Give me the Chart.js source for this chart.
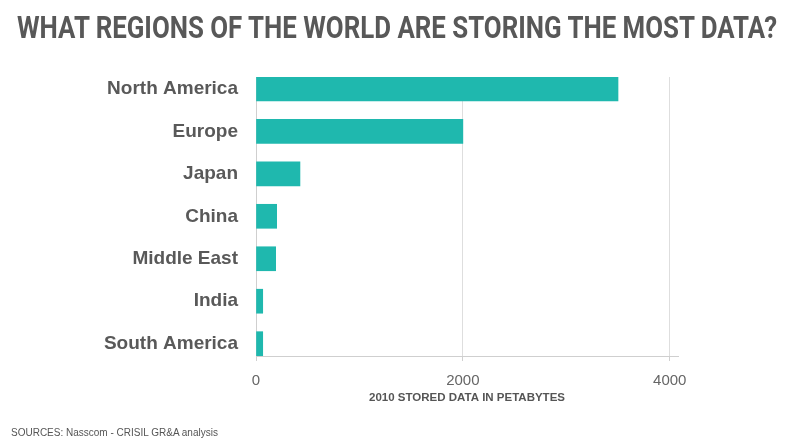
<!DOCTYPE html>
<html>
<head>
<meta charset="utf-8">
<script src="https://cdn.jsdelivr.net/npm/chart.js@4/dist/chart.umd.min.js"></script>
<style>
  html, body { margin: 0; padding: 0; background: #fff; }
  #wrap { position: relative; width: 794px; height: 447px; overflow: hidden; }
  #chart { position: absolute; left: 0; top: 0; }
  #title { position: absolute; left: 17px; top: 11px;
           font-family: Roboto, "Liberation Sans", sans-serif; font-weight: 700; font-size: 32px;
           line-height: 32px; color: #585858; white-space: nowrap; transform-origin: 0 0; }
  #source { position: absolute; left: 11px; top: 427px; font-family: "Liberation Sans", Arial, sans-serif;
            font-size: 10px; line-height: 12px; color: #555; white-space: nowrap; }
</style>
</head>
<body>
<div id="wrap">
  <canvas id="chart" width="794" height="447"></canvas>
  <div id="title">WHAT REGIONS OF THE WORLD ARE STORING THE MOST DATA?</div>
  <div id="source">SOURCES: Nasscom - CRISIL GR&amp;A analysis</div>
</div>
<script>
const categories = ['North America', 'Europe', 'Japan', 'China', 'Middle East', 'India', 'South America'];
const storedPetabytes = [3500, 2000, 425, 200, 190, 65, 65];
const xTickValues = [0, 2000, 4000];
const xAxisTitle = '2010 STORED DATA IN PETABYTES';

// squeeze the title to the condensed width of the original
const titleEl = document.getElementById('title');
const tw = titleEl.getBoundingClientRect().width;
titleEl.style.transform = 'scaleX(' + (760 / tw) + ')';

const points = storedPetabytes.map((v, i) => ({ x: v, y: i }));

new Chart(document.getElementById('chart'), {
  type: 'bar',
  data: {
    datasets: [{
      data: points,
      backgroundColor: '#1fb8ae',
      borderWidth: 0,
      barThickness: 24
    }]
  },
  options: {
    indexAxis: 'y',
    responsive: false,
    animation: false,
    layout: { padding: { top: 77, right: 116, bottom: 0, left: 0 } },
    plugins: { legend: { display: false }, tooltip: { enabled: false }, title: { display: false } },
    scales: {
      x: {
        type: 'linear',
        position: 'bottom',
        min: 0,
        max: 4080,
        afterBuildTicks: s => { s.ticks = xTickValues.map(v => ({ value: v })); },
        afterFit: s => { s.height = 91; },
        ticks: {
          stepSize: 2000,
          includeBounds: false,
          callback: v => String(v),
          color: '#666',
          font: { family: 'Liberation Sans', size: 15 },
          padding: 11,
          maxRotation: 0
        },
        grid: { color: '#dedede', lineWidth: 1, drawTicks: true, tickLength: 5, tickColor: '#d0d0d0' },
        border: { display: true, color: '#cfcfcf' },
        title: {
          display: true,
          text: xAxisTitle,
          color: '#555',
          font: { family: 'Liberation Sans', size: 11.5, weight: 'bold' },
          padding: { top: 0, bottom: 42.6 }
        }
      },
      y: {
        type: 'linear',
        reverse: true,
        offset: false,
        min: -0.28,
        max: 6.29,
        afterBuildTicks: s => { s.ticks = categories.map((c, i) => ({ value: i })); },
        afterFit: s => { s.width = 256; },
        ticks: {
          stepSize: 1,
          includeBounds: false,
          autoSkip: false,
          callback: v => categories[v] ?? '',
          color: '#595959',
          font: { family: 'Liberation Sans', size: 19, weight: 'bold' },
          padding: 18
        },
        grid: { display: false, drawTicks: false },
        border: { display: true, color: '#cfcfcf' }
      }
    }
  }
});
</script>
</body>
</html>
